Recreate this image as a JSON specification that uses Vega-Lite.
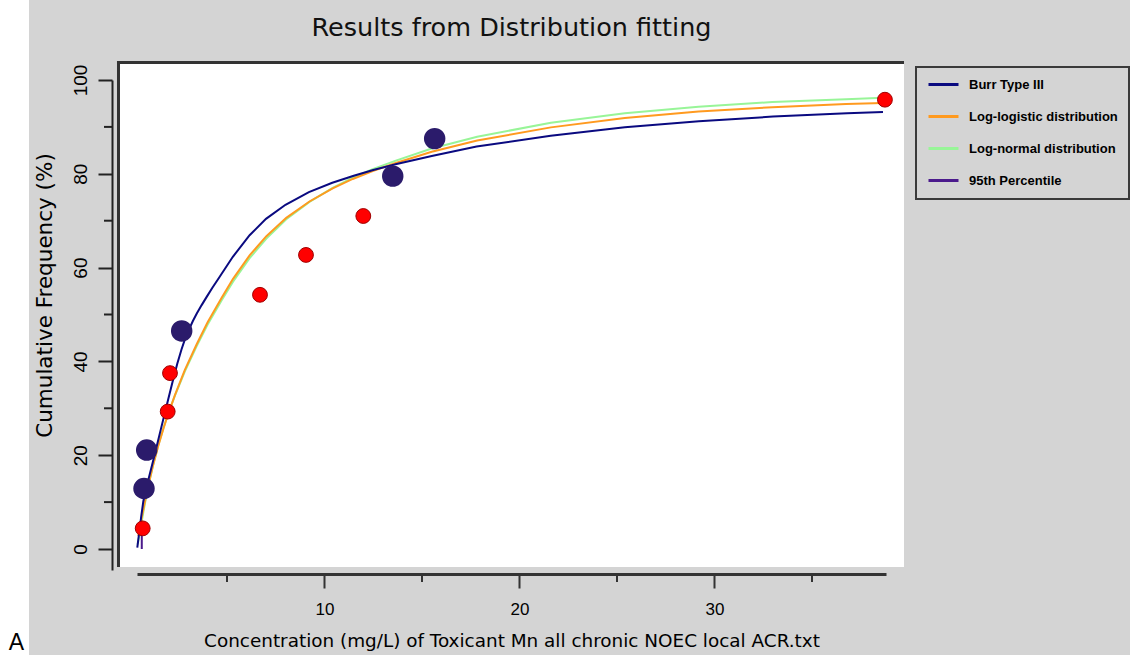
{
  "$schema": "https://vega.github.io/schema/vega-lite/v6.json",
  "width": 749,
  "height": 490,
  "autosize": "none",
  "padding": {"left": 137, "top": 80, "right": 244, "bottom": 85},
  "background": "#d4d4d4",
  "title": {
    "text": "Results from Distribution fitting",
    "font": "DejaVu Sans",
    "fontSize": 25.5,
    "fontWeight": "normal",
    "color": "#111111",
    "anchor": "middle",
    "frame": "group",
    "baseline": "alphabetic",
    "offset": 0,
    "dy": 62
  },
  "datasets": {
    "curves": [
      {"series": "Log-normal distribution", "x": 0.42, "y": 1.0},
      {"series": "Log-normal distribution", "x": 0.50, "y": 2.8},
      {"series": "Log-normal distribution", "x": 0.60, "y": 5.2},
      {"series": "Log-normal distribution", "x": 0.70, "y": 7.6},
      {"series": "Log-normal distribution", "x": 0.80, "y": 9.9},
      {"series": "Log-normal distribution", "x": 1.00, "y": 14.0},
      {"series": "Log-normal distribution", "x": 1.20, "y": 17.7},
      {"series": "Log-normal distribution", "x": 1.47, "y": 22.0},
      {"series": "Log-normal distribution", "x": 1.75, "y": 25.9},
      {"series": "Log-normal distribution", "x": 2.00, "y": 29.0},
      {"series": "Log-normal distribution", "x": 2.33, "y": 32.7},
      {"series": "Log-normal distribution", "x": 2.84, "y": 37.9},
      {"series": "Log-normal distribution", "x": 3.44, "y": 43.2},
      {"series": "Log-normal distribution", "x": 4.00, "y": 47.8},
      {"series": "Log-normal distribution", "x": 4.72, "y": 53.0},
      {"series": "Log-normal distribution", "x": 5.31, "y": 57.0},
      {"series": "Log-normal distribution", "x": 6.16, "y": 62.0},
      {"series": "Log-normal distribution", "x": 7.02, "y": 66.2},
      {"series": "Log-normal distribution", "x": 8.04, "y": 70.3},
      {"series": "Log-normal distribution", "x": 9.23, "y": 74.0},
      {"series": "Log-normal distribution", "x": 10.42, "y": 77.0},
      {"series": "Log-normal distribution", "x": 11.45, "y": 79.2},
      {"series": "Log-normal distribution", "x": 12.47, "y": 81.0},
      {"series": "Log-normal distribution", "x": 13.66, "y": 82.8},
      {"series": "Log-normal distribution", "x": 15.50, "y": 85.4},
      {"series": "Log-normal distribution", "x": 17.83, "y": 87.9},
      {"series": "Log-normal distribution", "x": 21.61, "y": 90.9},
      {"series": "Log-normal distribution", "x": 25.40, "y": 92.9},
      {"series": "Log-normal distribution", "x": 29.18, "y": 94.3},
      {"series": "Log-normal distribution", "x": 32.97, "y": 95.3},
      {"series": "Log-normal distribution", "x": 36.75, "y": 95.9},
      {"series": "Log-normal distribution", "x": 38.64, "y": 96.2},
      {"series": "Log-logistic distribution", "x": 0.45, "y": 2.8},
      {"series": "Log-logistic distribution", "x": 0.55, "y": 5.0},
      {"series": "Log-logistic distribution", "x": 0.65, "y": 7.2},
      {"series": "Log-logistic distribution", "x": 0.80, "y": 10.3},
      {"series": "Log-logistic distribution", "x": 1.00, "y": 14.2},
      {"series": "Log-logistic distribution", "x": 1.20, "y": 17.7},
      {"series": "Log-logistic distribution", "x": 1.47, "y": 21.9},
      {"series": "Log-logistic distribution", "x": 1.75, "y": 25.8},
      {"series": "Log-logistic distribution", "x": 2.00, "y": 29.0},
      {"series": "Log-logistic distribution", "x": 2.33, "y": 32.8},
      {"series": "Log-logistic distribution", "x": 2.84, "y": 38.2},
      {"series": "Log-logistic distribution", "x": 3.44, "y": 43.6},
      {"series": "Log-logistic distribution", "x": 4.00, "y": 48.3},
      {"series": "Log-logistic distribution", "x": 4.72, "y": 53.5},
      {"series": "Log-logistic distribution", "x": 5.31, "y": 57.6},
      {"series": "Log-logistic distribution", "x": 6.16, "y": 62.6},
      {"series": "Log-logistic distribution", "x": 7.02, "y": 66.7},
      {"series": "Log-logistic distribution", "x": 8.04, "y": 70.6},
      {"series": "Log-logistic distribution", "x": 9.23, "y": 74.1},
      {"series": "Log-logistic distribution", "x": 10.42, "y": 76.9},
      {"series": "Log-logistic distribution", "x": 11.45, "y": 78.9},
      {"series": "Log-logistic distribution", "x": 12.47, "y": 80.6},
      {"series": "Log-logistic distribution", "x": 13.66, "y": 82.3},
      {"series": "Log-logistic distribution", "x": 15.50, "y": 84.7},
      {"series": "Log-logistic distribution", "x": 17.83, "y": 87.1},
      {"series": "Log-logistic distribution", "x": 21.61, "y": 89.9},
      {"series": "Log-logistic distribution", "x": 25.40, "y": 91.9},
      {"series": "Log-logistic distribution", "x": 29.18, "y": 93.3},
      {"series": "Log-logistic distribution", "x": 32.97, "y": 94.2},
      {"series": "Log-logistic distribution", "x": 36.75, "y": 94.9},
      {"series": "Log-logistic distribution", "x": 38.64, "y": 95.1},
      {"series": "Burr Type III", "x": 0.40, "y": 0.3},
      {"series": "Burr Type III", "x": 0.50, "y": 3.6},
      {"series": "Burr Type III", "x": 0.60, "y": 6.9},
      {"series": "Burr Type III", "x": 0.71, "y": 10.2},
      {"series": "Burr Type III", "x": 0.85, "y": 12.8},
      {"series": "Burr Type III", "x": 1.00, "y": 15.3},
      {"series": "Burr Type III", "x": 1.20, "y": 18.6},
      {"series": "Burr Type III", "x": 1.39, "y": 21.8},
      {"series": "Burr Type III", "x": 1.60, "y": 25.4},
      {"series": "Burr Type III", "x": 1.80, "y": 28.8},
      {"series": "Burr Type III", "x": 1.98, "y": 31.8},
      {"series": "Burr Type III", "x": 2.20, "y": 35.5},
      {"series": "Burr Type III", "x": 2.45, "y": 39.5},
      {"series": "Burr Type III", "x": 2.67, "y": 42.6},
      {"series": "Burr Type III", "x": 2.85, "y": 44.8},
      {"series": "Burr Type III", "x": 3.05, "y": 46.8},
      {"series": "Burr Type III", "x": 3.25, "y": 48.6},
      {"series": "Burr Type III", "x": 3.45, "y": 50.2},
      {"series": "Burr Type III", "x": 3.70, "y": 52.0},
      {"series": "Burr Type III", "x": 3.95, "y": 53.7},
      {"series": "Burr Type III", "x": 4.25, "y": 55.7},
      {"series": "Burr Type III", "x": 4.60, "y": 57.9},
      {"series": "Burr Type III", "x": 5.30, "y": 62.3},
      {"series": "Burr Type III", "x": 6.16, "y": 66.9},
      {"series": "Burr Type III", "x": 7.00, "y": 70.4},
      {"series": "Burr Type III", "x": 8.00, "y": 73.4},
      {"series": "Burr Type III", "x": 9.20, "y": 76.1},
      {"series": "Burr Type III", "x": 10.40, "y": 78.1},
      {"series": "Burr Type III", "x": 11.50, "y": 79.6},
      {"series": "Burr Type III", "x": 12.50, "y": 80.8},
      {"series": "Burr Type III", "x": 13.70, "y": 82.1},
      {"series": "Burr Type III", "x": 15.50, "y": 83.8},
      {"series": "Burr Type III", "x": 17.80, "y": 85.8},
      {"series": "Burr Type III", "x": 21.60, "y": 88.1},
      {"series": "Burr Type III", "x": 25.40, "y": 89.9},
      {"series": "Burr Type III", "x": 29.20, "y": 91.2},
      {"series": "Burr Type III", "x": 33.00, "y": 92.2},
      {"series": "Burr Type III", "x": 36.80, "y": 92.9},
      {"series": "Burr Type III", "x": 38.64, "y": 93.2},
      {"series": "95th Percentile", "x": 0.63, "y": 0.0},
      {"series": "95th Percentile", "x": 0.63, "y": 4.5}
    ],
    "observed": [
      {"x": 0.677, "y": 4.4},
      {"x": 1.959, "y": 29.3},
      {"x": 2.077, "y": 37.5},
      {"x": 6.692, "y": 54.2},
      {"x": 9.051, "y": 62.7},
      {"x": 11.99, "y": 71.0},
      {"x": 38.74, "y": 95.8}
    ],
    "highlighted": [
      {"x": 0.744, "y": 12.9},
      {"x": 0.882, "y": 21.1},
      {"x": 2.677, "y": 46.5},
      {"x": 13.50, "y": 79.5},
      {"x": 15.65, "y": 87.5}
    ],
    "xminor": [{"v": 5}, {"v": 15}, {"v": 25}, {"v": 35}],
    "yminor": [{"v": 10}, {"v": 30}, {"v": 50}, {"v": 70}, {"v": 90}]
  },
  "layer": [
    {
      "data": {"values": [{}]},
      "mark": {"type": "rect", "color": "#ffffff", "clip": false},
      "encoding": {
        "x": {
          "datum": -6.641,
          "type": "quantitative",
          "scale": {"domain": [0.385, 38.795], "nice": false, "zero": false},
          "axis": {
            "title": "Concentration (mg/L) of Toxicant Mn all chronic NOEC local ACR.txt",
            "values": [10, 20, 30],
            "tickSize": 14,
            "offset": 4,
            "grid": false,
            "domainColor": "#333333",
            "domainWidth": 3,
            "tickColor": "#333333",
            "tickWidth": 2,
            "labelFont": "Liberation Sans",
            "labelFontSize": 17,
            "labelColor": "#000000",
            "labelPadding": 13,
            "labelFlush": false,
            "labelOverlap": false,
            "titleFont": "DejaVu Sans",
            "titleFontSize": 18.4,
            "titleFontWeight": "normal",
            "titleColor": "#000000",
            "titleBaseline": "alphabetic",
            "titleY": 72
          }
        },
        "x2": {"datum": -5.153},
        "y": {
          "datum": 117.06,
          "type": "quantitative",
          "scale": {"domain": [-4.478, 100], "nice": false, "zero": false},
          "axis": {
            "title": "Cumulative Frequency (%)",
            "values": [0, 20, 40, 60, 80, 100],
            "tickSize": 14,
            "offset": 25,
            "grid": false,
            "domainColor": "#222222",
            "domainWidth": 2,
            "tickColor": "#222222",
            "tickWidth": 2,
            "labelAngle": -90,
            "labelAlign": "center",
            "labelBaseline": "bottom",
            "labelFont": "Liberation Sans",
            "labelFontSize": 19,
            "labelColor": "#000000",
            "labelPadding": 8,
            "labelFlush": false,
            "labelOverlap": false,
            "titleFont": "DejaVu Sans",
            "titleFontSize": 21.5,
            "titleFontWeight": "normal",
            "titleColor": "#000000",
            "titleAngle": -90,
            "titleAlign": "center",
            "titleBaseline": "middle",
            "titleX": -67,
            "titleY": 215
          }
        },
        "y2": {"datum": -22.6}
      }
    },
    {
      "data": {"values": [{}]},
      "mark": {"type": "rect", "color": "#ffffff", "clip": false},
      "encoding": {
        "x": {"datum": -0.641, "type": "quantitative"},
        "x2": {"datum": 39.718},
        "y": {"datum": 104.05, "type": "quantitative"},
        "y2": {"datum": -3.838}
      }
    },
    {
      "data": {"values": [{}]},
      "mark": {"type": "rule", "color": "#333333", "strokeWidth": 3, "clip": false},
      "encoding": {
        "x": {"datum": -0.641, "type": "quantitative"},
        "x2": {"datum": 39.718},
        "y": {"datum": 103.73, "type": "quantitative"}
      }
    },
    {
      "data": {"values": [{}]},
      "mark": {"type": "rule", "color": "#333333", "strokeWidth": 3, "clip": false},
      "encoding": {
        "x": {"datum": -0.564, "type": "quantitative"},
        "y": {"datum": 104.05, "type": "quantitative"},
        "y2": {"datum": -3.838}
      }
    },
    {
      "data": {"name": "xminor"},
      "mark": {"type": "rule", "color": "#333333", "strokeWidth": 2, "clip": false},
      "encoding": {
        "x": {"field": "v", "type": "quantitative"},
        "y": {"datum": -5.33, "type": "quantitative"},
        "y2": {"datum": -7.04}
      }
    },
    {
      "data": {"name": "yminor"},
      "mark": {"type": "rule", "color": "#222222", "strokeWidth": 2, "clip": false},
      "encoding": {
        "y": {"field": "v", "type": "quantitative"},
        "x": {"datum": -0.897, "type": "quantitative"},
        "x2": {"datum": -1.307}
      }
    },
    {
      "data": {"name": "curves"},
      "mark": {"type": "line", "strokeWidth": 2, "interpolate": "linear", "clip": false},
      "encoding": {
        "x": {"field": "x", "type": "quantitative"},
        "y": {"field": "y", "type": "quantitative"},
        "color": {
          "field": "series",
          "type": "nominal",
          "scale": {
            "domain": ["Burr Type III", "Log-logistic distribution", "Log-normal distribution", "95th Percentile"],
            "range": ["#0a0a80", "#ff9a1f", "#98f598", "#4b1a8c"]
          },
          "legend": {
            "orient": "none",
            "legendX": 779,
            "legendY": -13,
            "title": null,
            "symbolType": "stroke",
            "symbolSize": 900,
            "symbolStrokeWidth": 3,
            "clipHeight": 13,
            "rowPadding": 18,
            "padding": 11,
            "labelOffset": 9,
            "labelFont": "Liberation Sans",
            "labelFontSize": 13,
            "labelFontWeight": "bold",
            "labelColor": "#000000",
            "strokeColor": "#3a3a3a"
          }
        }
      }
    },
    {
      "data": {"name": "observed"},
      "mark": {"type": "point", "shape": "circle", "filled": true, "fill": "#ff0000", "stroke": "#a00000", "strokeWidth": 1, "opacity": 1, "size": 220, "clip": false},
      "encoding": {
        "x": {"field": "x", "type": "quantitative"},
        "y": {"field": "y", "type": "quantitative"}
      }
    },
    {
      "data": {"name": "highlighted"},
      "mark": {"type": "point", "shape": "circle", "filled": true, "fill": "#2b1b6b", "opacity": 1, "size": 460, "clip": false},
      "encoding": {
        "x": {"field": "x", "type": "quantitative"},
        "y": {"field": "y", "type": "quantitative"}
      }
    },
    {
      "data": {"values": [{"label": "A"}]},
      "mark": {"type": "text", "font": "Liberation Sans", "fontSize": 23, "color": "#000000", "align": "center", "baseline": "alphabetic", "clip": false},
      "encoding": {
        "x": {"datum": -5.794, "type": "quantitative"},
        "y": {"datum": -21.54, "type": "quantitative"},
        "text": {"field": "label"}
      }
    }
  ],
  "config": {
    "view": {"stroke": null},
    "legend": {"strokeWidth": 2}
  }
}
